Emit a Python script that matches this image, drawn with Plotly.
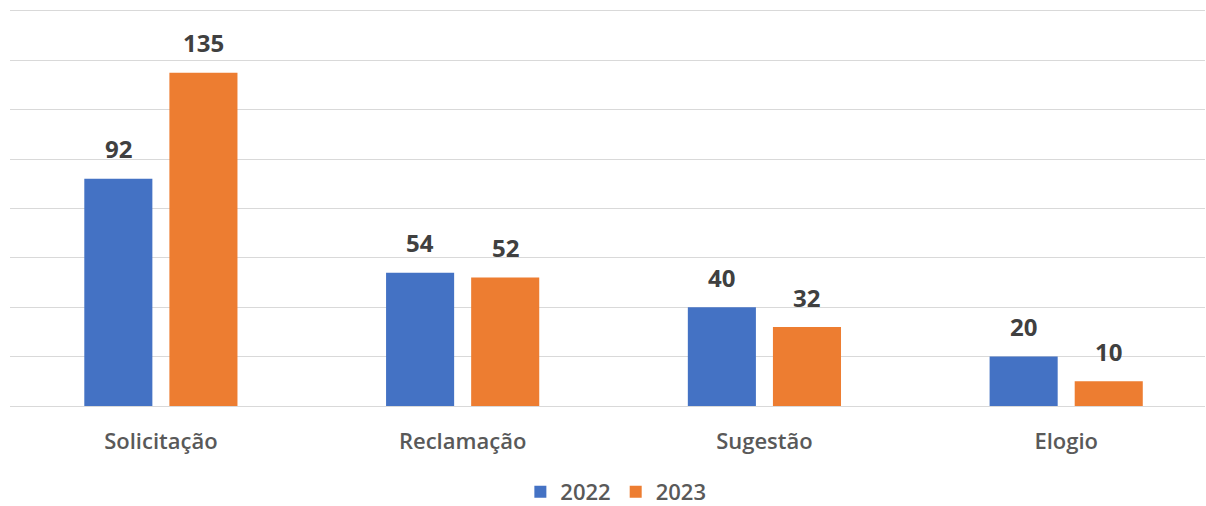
import plotly.graph_objects as go

categories = ["Solicitação", "Reclamação", "Sugestão", "Elogio"]
series_names = ["2022", "2023"]
values_2022 = [92, 54, 40, 20]
values_2023 = [135, 52, 32, 10]
colors = ["#4472C4", "#ED7D31"]

fig = go.Figure()
for name, vals, col in zip(series_names, [values_2022, values_2023], colors):
    fig.add_trace(go.Bar(
        name=name, x=categories, y=vals, marker=dict(color=col, line=dict(width=0)),
    ))

# data labels
font_lbl = dict(family="Open Sans, Noto Sans, sans-serif", size=24, color="#404040", weight=700)
for i, vals in enumerate([values_2022, values_2023]):
    shift = -42.5 if i == 0 else 42.5
    for c, v in zip(categories, vals):
        fig.add_annotation(x=c, y=v, xref="x", yref="y", text=str(v),
                           showarrow=False, xshift=shift, yshift=30,
                           yanchor="middle", font=font_lbl)

fig.update_layout(
    width=1206, height=506,
    margin=dict(l=10, r=1, t=9, b=100, autoexpand=False),
    paper_bgcolor="white", plot_bgcolor="white",
    barmode="group", bargap=0.436, bargroupgap=0.2,
    font=dict(family="Open Sans, Noto Sans, sans-serif", color="#595959"),
    legend=dict(orientation="h", x=0.507, xanchor="center", y=-0.2166, yanchor="middle",
                font=dict(size=22, color="#595959", weight=600), itemwidth=30, traceorder="normal"),
    showlegend=True,
)
fig.update_xaxes(range=[-0.5, 3.46], showline=False, ticks="outside", ticklen=16,
                 tickcolor="rgba(0,0,0,0)", automargin=False,
                 tickfont=dict(size=22, color="#595959", weight=600), showgrid=False)
fig.update_yaxes(range=[0, 160.8], dtick=20, showgrid=True, gridcolor="#D9D9D9", gridwidth=1,
                 showticklabels=False, zeroline=True, zerolinecolor="#D9D9D9", zerolinewidth=1,
                 showline=False, ticks="", automargin=False)
fig.write_html("out.html", config={"displayModeBar": False},
               post_script="document.body.style.margin='0px';")
